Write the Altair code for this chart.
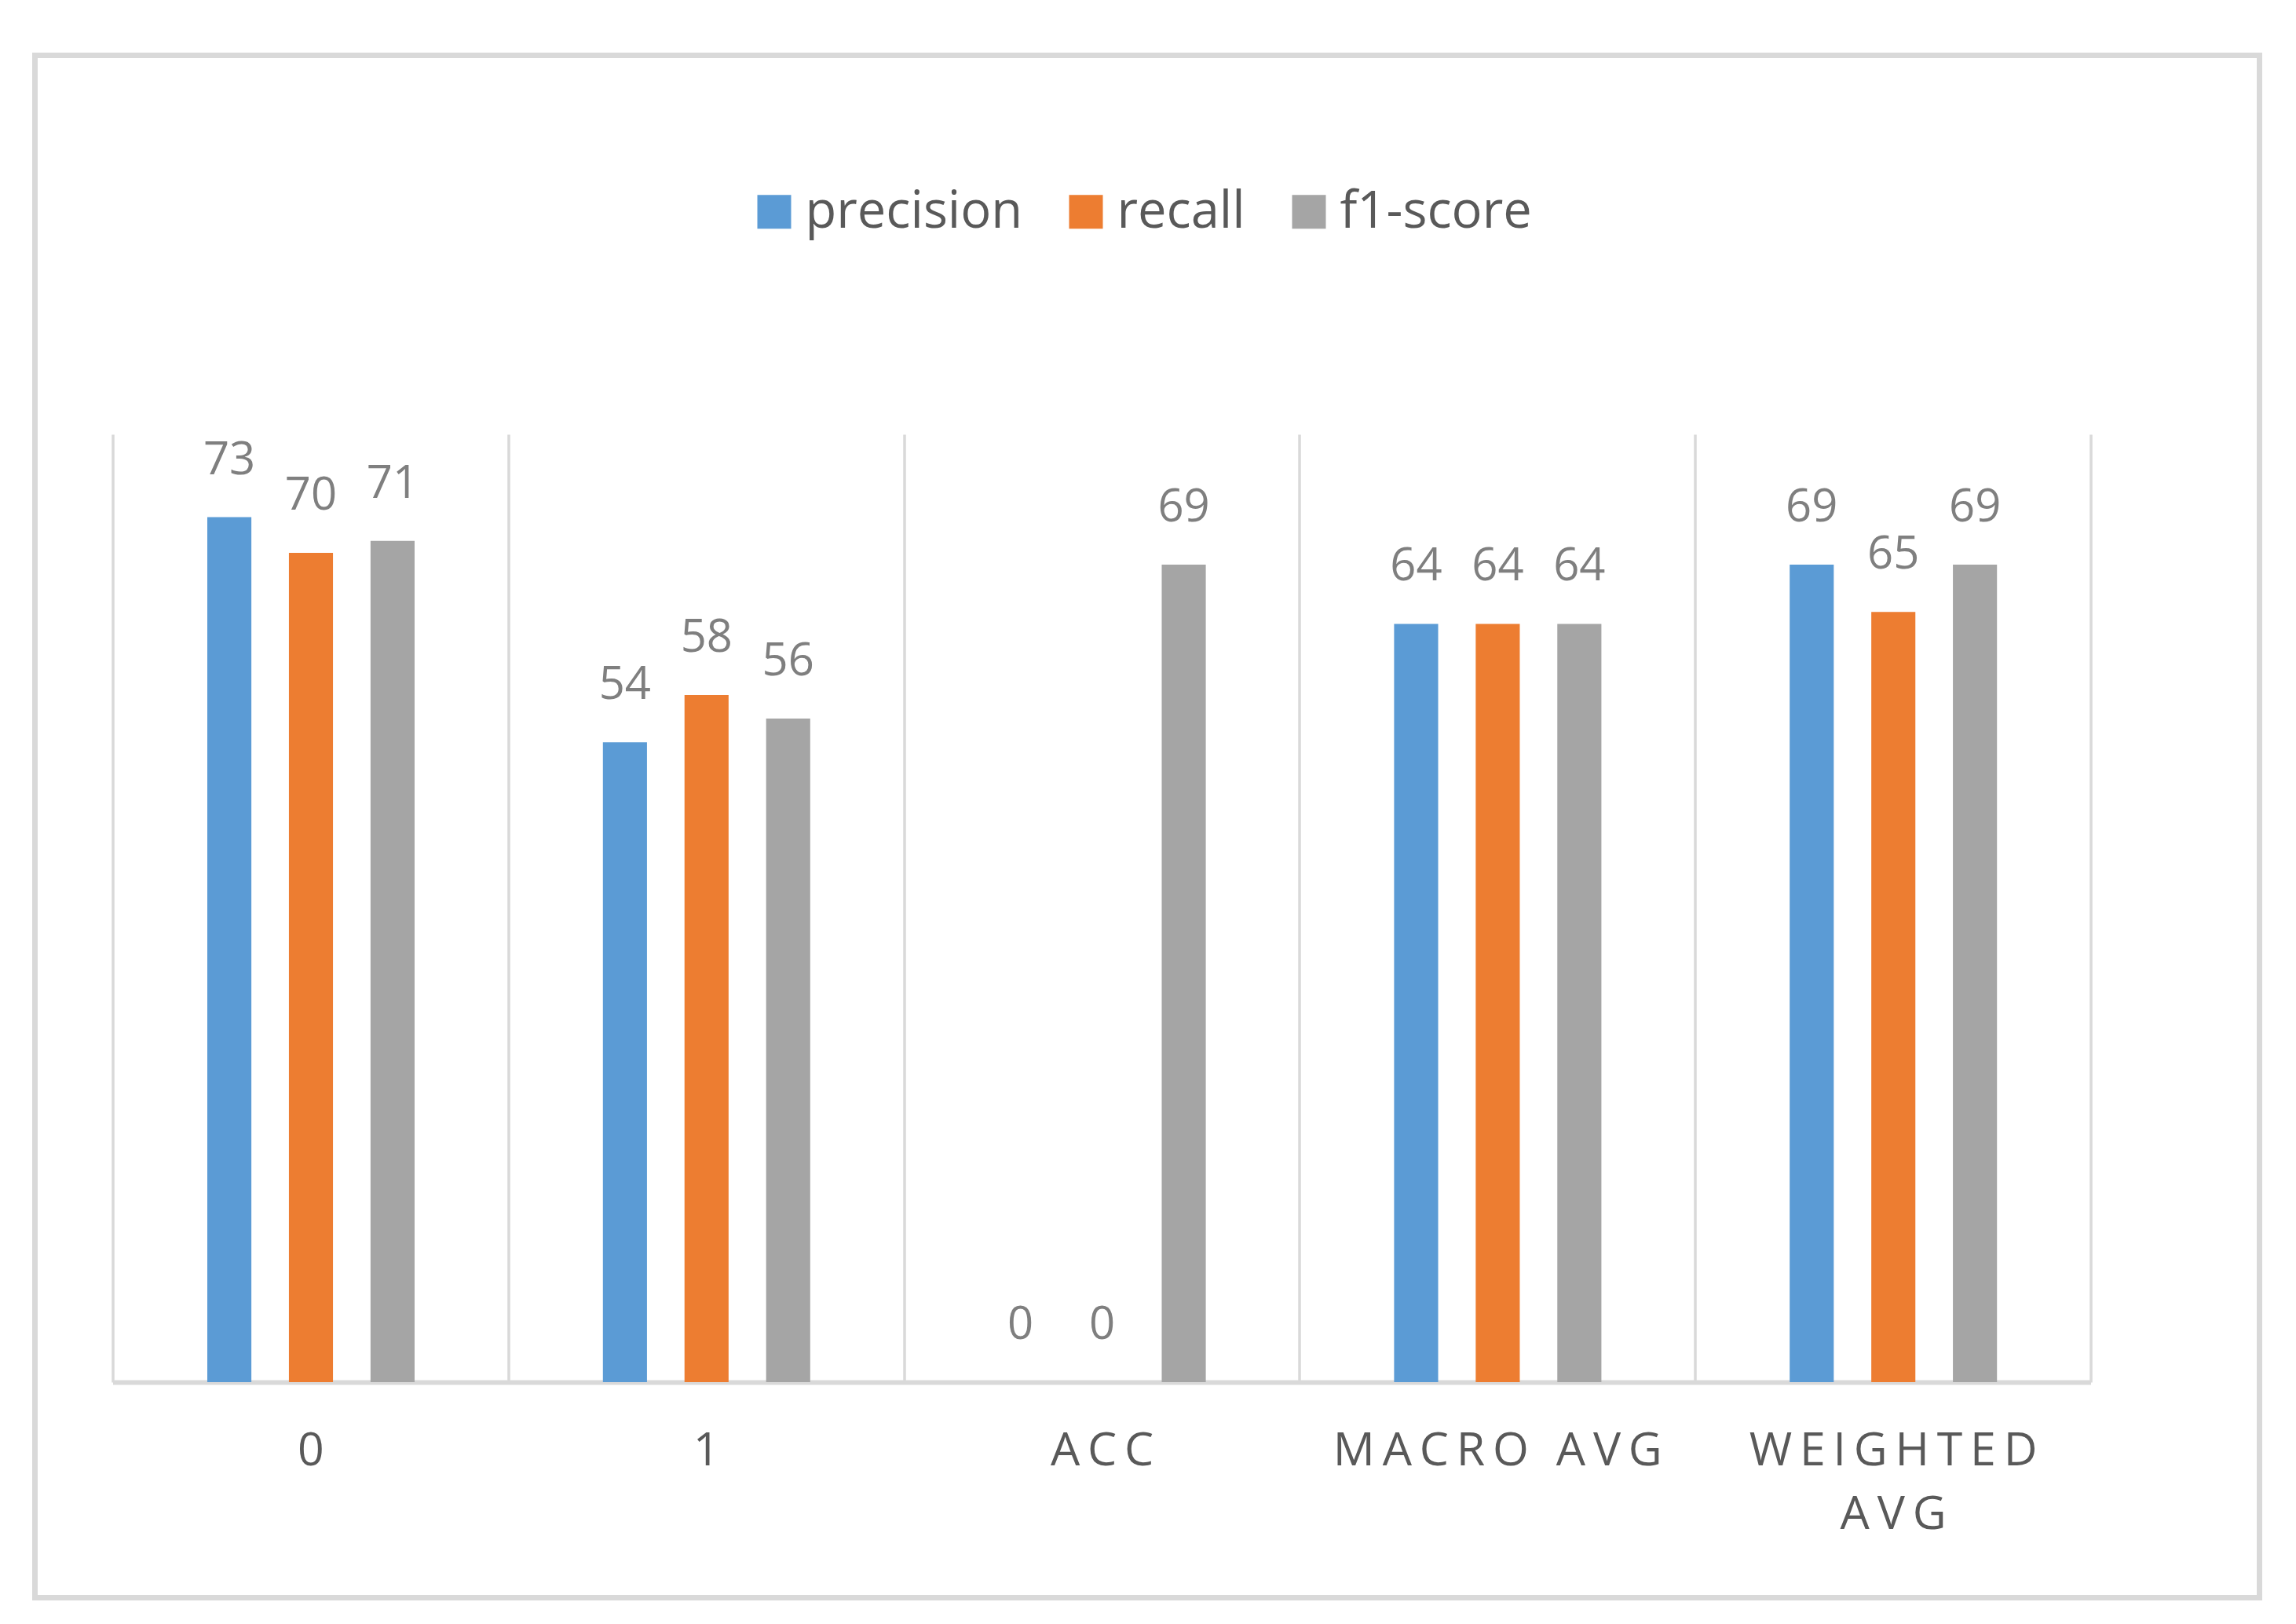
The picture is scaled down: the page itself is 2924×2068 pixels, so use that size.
import altair as alt
import pandas as pd

categories = ["0", "1", "ACC", "MACRO AVG", "WEIGHTED AVG"]
series = ["precision", "recall", "f1-score"]
precision = [73, 54, 0, 64, 69]
recall = [70, 58, 0, 64, 65]
f1_score = [71, 56, 69, 64, 69]
colors = ["#5B9BD5", "#ED7D31", "#A5A5A5"]

rows = []
for i, c in enumerate(categories):
    for s, vals in zip(series, [precision, recall, f1_score]):
        rows.append({"category": c, "metric": s, "value": vals[i]})
df = pd.DataFrame(rows)

FONT = "Open Sans"
W, H = 2519, 1207
SP = "\u2009"

label_expr = (
    "length(datum.label) > 10 ? "
    "[join(split(split(datum.label, ' ')[0], ''), '" + SP + "'), "
    "join(split(split(datum.label, ' ')[1], ''), '" + SP + "')] : "
    "join(split(datum.label, ''), '" + SP + "')"
)

x_enc = alt.X(
    "category:N",
    sort=categories,
    scale=alt.Scale(paddingInner=0, paddingOuter=0),
    axis=alt.Axis(
        title=None,
        labelAngle=0,
        grid=True,
        tickBand="extent",
        gridColor="#d9d9d9",
        gridWidth=3.5,
        domainColor="#d9d9d9",
        domainWidth=6,
        ticks=False,
        labelFont=FONT,
        labelFontSize=59,
        labelColor="#595959",
        labelPadding=58,
        labelLineHeight=81,
        labelLimit=2000,
        labelExpr=label_expr,
    ),
)
xo_scale = alt.Scale(paddingInner=0.46, paddingOuter=0, range=[120.5, 384.5])
xo_enc = alt.XOffset("metric:N", sort=series, scale=xo_scale)
y_enc = alt.Y("value:Q", scale=alt.Scale(domain=[0, 80], nice=False, zero=True), axis=None)

bars = alt.Chart(df).mark_bar().encode(
    x=x_enc,
    xOffset=xo_enc,
    y=y_enc,
    color=alt.Color(
        "metric:N",
        sort=series,
        scale=alt.Scale(domain=series, range=colors),
        legend=alt.Legend(
            title=None,
            orient="none",
            direction="horizontal",
            legendX=810,
            legendY=-316,
            symbolType="square",
            symbolSize=1849,
            symbolStrokeWidth=0,
            symbolOpacity=1,
            labelFont=FONT,
            labelFontSize=65,
            labelColor="#595959",
            labelOffset=7,
            columnPadding=48,
            padding=0,
            labelLimit=1000,
        ),
    ),
)

labels = alt.Chart(df).mark_text(
    font=FONT, fontSize=58, color="#7f7f7f", baseline="alphabetic", align="center", dy=-55
).encode(
    x=alt.X("category:N", sort=categories),
    xOffset=alt.XOffset("metric:N", sort=series),
    y=alt.Y("value:Q"),
    text=alt.Text("value:Q"),
)

frame = alt.Chart(pd.DataFrame({"k": [0]})).mark_rect(
    fill=None, stroke="#d9d9d9", strokeWidth=7
).encode(
    x=alt.value(-99), x2=alt.value(2734), y=alt.value(-482.5), y2=alt.value(1481.5)
)

chart = (
    alt.layer(frame, bars, labels)
    .properties(
        width=W,
        height=H,
        autosize=alt.AutoSizeParams(type="none"),
        padding={"left": 135.5, "top": 545, "right": 253.5, "bottom": 300},
        background="white",
    )
    .configure_view(stroke=None)
)

chart.save("out.html", embed_options={"renderer": "svg", "actions": False})
